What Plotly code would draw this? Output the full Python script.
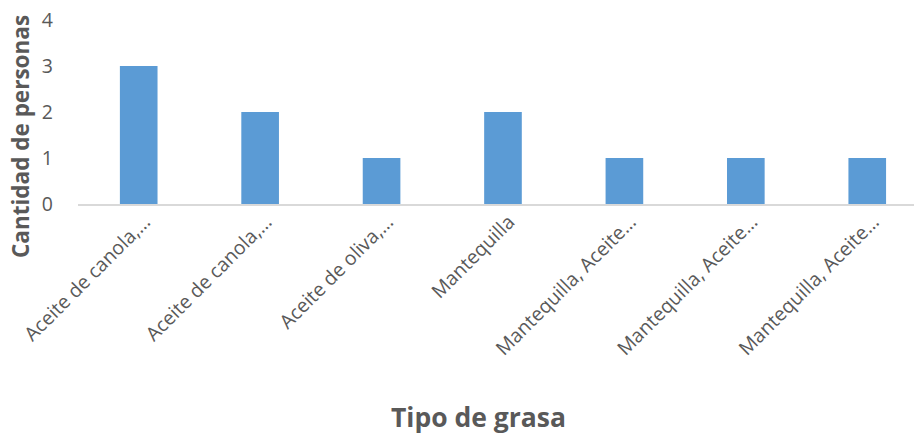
import plotly.graph_objects as go

categories = ["Aceite de canola,…", "Aceite de canola,…", "Aceite de oliva,…", "Mantequilla",
              "Mantequilla, Aceite…", "Mantequilla, Aceite…", "Mantequilla, Aceite…"]
values = [3, 2, 1, 2, 1, 1, 1]
y_ticks = [0, 1, 2, 3, 4]

positions = list(range(len(categories)))

fig = go.Figure(go.Bar(x=positions, y=values, marker=dict(color="#5B9BD5", line=dict(width=0)),
                       width=0.31))

L, R, T, B = 78, 0, 20, 231
W, H = 914, 435
pw = W - L - R
ph = H - T - B

fig.update_layout(
    width=W, height=H,
    margin=dict(l=L, r=R, t=T, b=B),
    plot_bgcolor="white", paper_bgcolor="white",
    font=dict(family="Open Sans", color="#595959"),
    showlegend=False,
    xaxis=dict(range=[-0.5, 6.385], tickmode="array", tickvals=positions, ticktext=categories,
               tickangle=-45, tickfont=dict(size=19.5, color="#595959"),
               ticklabelshift=6, ticklabelstandoff=-3,
               showline=True, linecolor="#D9D9D9", linewidth=1.5, showgrid=False, ticks="",
               zeroline=False),
    yaxis=dict(range=[0, 4], tickmode="array", tickvals=y_ticks, showgrid=False, zeroline=False,
               showline=False, tickfont=dict(size=19.5, color="#595959"), ticks="",
               ticklabelstandoff=24),
)
fig.add_annotation(text="<b>Cantidad de personas</b>", xref="paper", yref="paper",
                   x=(20 - L) / pw, y=(H - B - 137) / ph, showarrow=False, textangle=-90,
                   font=dict(size=22.5, color="#595959"), xanchor="center", yanchor="middle")
fig.add_annotation(text="<b>Tipo de grasa</b>", xref="paper", yref="paper",
                   x=(478 - L) / pw, y=(H - B - 417) / ph, showarrow=False,
                   font=dict(size=26.5, color="#595959"), xanchor="center", yanchor="middle")

fig.write_html("out.html")
